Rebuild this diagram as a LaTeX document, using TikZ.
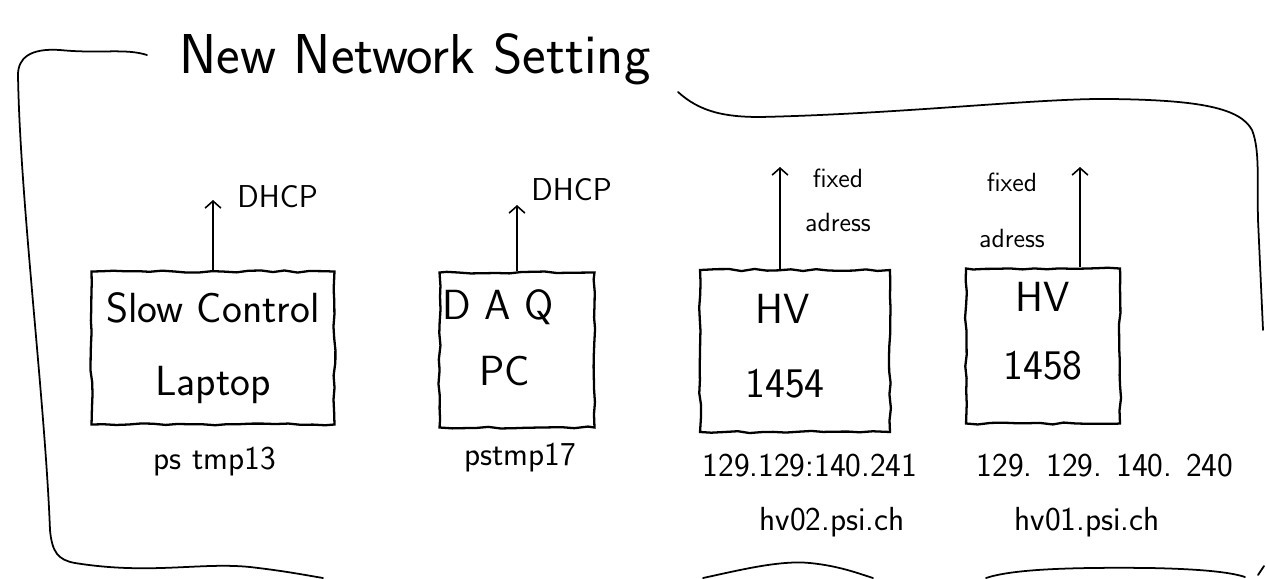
\documentclass[tikz,border=0pt]{standalone}
\usetikzlibrary{positioning,arrows.meta,decorations.pathmorphing}

\tikzset{
  frame/.style={line width=1pt, line cap=round},
  devbox/.style={draw, line width=1.3pt, inner sep=0pt, align=center,
    font=\sffamily\fontsize{24}{29}\selectfont,
    decorate, decoration={random steps, segment length=7pt, amplitude=0.6pt}},
  netarrow/.style={line width=0.9pt, -{Straight Barb[length=4pt,width=9pt]}},
  titletext/.style={font=\sffamily\fontsize{32}{38}\selectfont, inner sep=0pt},
  dhcpnote/.style={font=\sffamily\fontsize{18}{22}\selectfont, inner sep=0pt},
  fixnote/.style={font=\sffamily\fontsize{15}{25}\selectfont, inner sep=0pt, align=center},
  hostnote/.style={font=\sffamily\fontsize{19}{23}\selectfont, inner sep=0pt}
}

\begin{document}
\begin{tikzpicture}[x=0.02cm, y=-0.02cm]
  \pgfmathsetseed{7}
  \useasboundingbox (0,0) rectangle (1266,578);

  % title and the surrounding frame
  \node[titletext, anchor=base] (title) at (415,73) {New Network Setting};
  \draw[frame] (147,55) .. controls (125,48) and (100,54) .. (60,50)
    .. controls (30,48) and (18,58) .. (18,75)
    .. controls (20,200) and (45,400) .. (50,530)
    .. controls (52,552) and (58,560) .. (75,563)
    .. controls (150,575) and (200,562) .. (250,567)
    .. controls (285,571) and (305,575) .. (323,578);
  \draw[frame] (678,92) .. controls (700,112) and (725,117) .. (760,117)
    .. controls (900,114) and (1040,98) .. (1110,99)
    .. controls (1200,100) and (1240,108) .. (1252,130)
    .. controls (1260,150) and (1257,180) .. (1258,220) -- (1263,330);
  \draw[frame] (703,578) .. controls (740,570) and (780,560) .. (810,563)
    .. controls (840,566) and (860,574) .. (873,578);
  \draw[frame] (986,578) .. controls (1010,570) and (1060,567) .. (1150,568)
    .. controls (1200,569) and (1230,572) .. (1245,577);
  \draw[frame] (1258,575) -- (1264,566);

  % devices
  \node[devbox, minimum width=4.86cm, minimum height=3.06cm] (laptop) at (213,348) {Slow Control\\[0.45cm]Laptop};
  \node[devbox, minimum width=3.1cm, minimum height=3.1cm, text depth=0.5cm] (daq) at (517,350) {D A Q\hspace*{0.75cm}\\[0.3cm]PC\hspace*{0.5cm}};
  \node[devbox, minimum width=3.8cm, minimum height=3.24cm, text depth=0.2cm] (hvA) at (795,351) {HV\hspace*{0.5cm}\\[0.45cm]1454\hspace*{0.4cm}};
  \node[devbox, minimum width=3.08cm, minimum height=3.1cm, text depth=0.6cm] (hvB) at (1043,346) {HV\\[0.35cm]1458};

  % uplinks
  \coordinate (laptopUp) at (213,200);
  \coordinate (daqUp) at (517,205);
  \coordinate (hvAUp) at (780,167);
  \coordinate (hvBUp) at (1080,167);
  \draw[netarrow] (laptop.north) -- (laptopUp);
  \draw[netarrow] (daq.north) -- (daqUp);
  \draw[netarrow] (hvA.north -| hvAUp) -- (hvAUp);
  \draw[netarrow] (hvB.north -| hvBUp) -- (hvBUp);

  \node[dhcpnote, right=0.48cm of laptopUp, yshift=0.06cm] (laptopDhcp) {DHCP};
  \node[dhcpnote, right=0.28cm of daqUp, yshift=0.3cm] (daqDhcp) {DHCP};
  \node[fixnote] (hvAFix) at (838,200) {fixed\\adress};
  \node[fixnote] (hvBFix) at (1012,210) {fixed\\[7pt]adress};

  % names and addresses
  \node[hostnote] (laptopName) at (215,462) {ps tmp13};
  \node[hostnote] (daqName) at (520,458) {pstmp17};
  \node[hostnote] (hvAAddr) at (810,466) {129.129:140.241};
  \node[hostnote] (hvBAddr) at (1105,466) {129. 129. 140. 240};
  \node[hostnote] (hvAName) at (832,522) {hv02.psi.ch};
  \node[hostnote] (hvBName) at (1087,522) {hv01.psi.ch};
\end{tikzpicture}
\end{document}
